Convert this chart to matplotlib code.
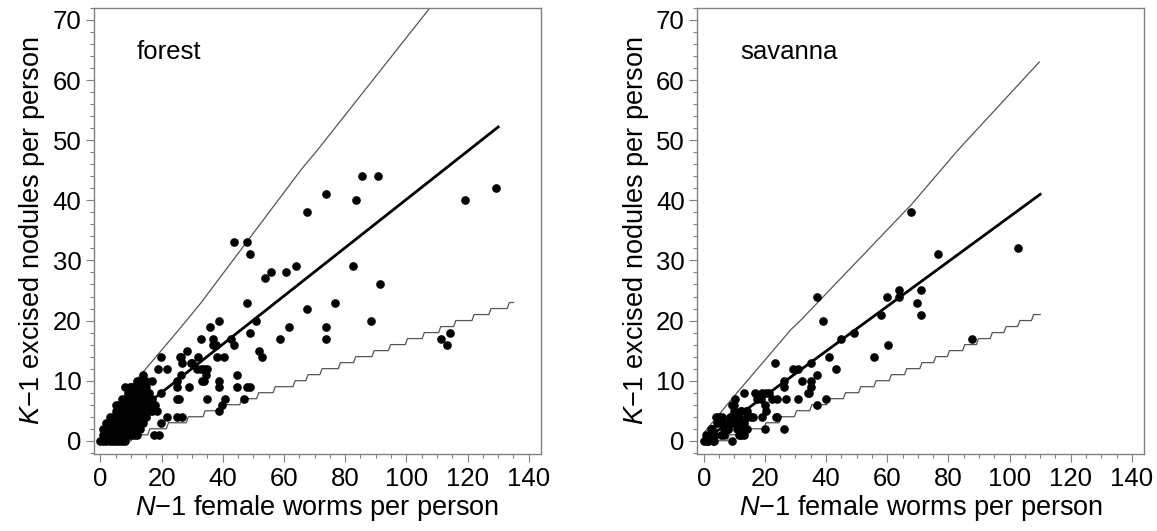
import numpy as np
import matplotlib
matplotlib.use("Agg")
import matplotlib.pyplot as plt
from matplotlib.ticker import MultipleLocator

plt.rcParams['font.family'] = ['Liberation Sans', 'DejaVu Sans']
plt.rcParams['mathtext.fontset'] = 'custom'
plt.rcParams['mathtext.rm'] = 'Liberation Sans'
plt.rcParams['mathtext.it'] = 'Liberation Sans:italic'

# ---- forest data (N-1 female worms, K-1 excised nodules) ----
forest_x = [0, 1, 2, 3, 4, 5, 6, 7, 8,
            1, 2, 3, 4, 5, 6, 7, 8, 9, 10, 11, 12,
            2, 3, 4, 5, 6, 7, 8, 9, 10, 11, 13,
            3, 4, 5, 6, 7, 8, 9, 10, 12, 14,
            4, 5, 6, 7, 8, 9, 10, 11, 12, 13, 15,
            5, 6, 7, 8, 10, 11, 12, 14, 16, 17,
            6, 7, 9, 10, 11, 12, 13, 14, 16, 18,
            7, 8, 10, 11, 12, 13, 15, 17,
            9, 11, 12, 13, 14, 15, 16,
            10, 11, 13, 14, 15, 12, 13, 14, 14,
            1, 2, 3, 5, 8,
            19.7, 18.9, 21.9, 14.8, 16.9, 9.8, 19.7, 25.1, 25.1, 29.0, 26.2, 26.2,
            28.4, 26.8, 29.5, 31.5, 32.8, 33.9, 35.0, 33.9, 38.8, 38.8, 44.8, 44.8,
            47.8, 48.9, 34.8, 40.8, 39.9, 38.8, 46.8, 24.9, 25.7, 21.9, 24.9, 26.8,
            18.6, 17.5, 19.1, 19.7, 38.2, 40.4, 34.4, 33.3, 25.9, 30.0, 32.0,
            43.7, 47.8, 48.8, 67.5, 73.7, 85.6, 90.7, 83.6, 119.3, 129.4, 63.8, 60.7,
            55.7, 53.8, 82.6, 91.5, 47.8, 67.5, 76.6, 88.5, 35.8, 38.8, 50.7, 48.8,
            61.6, 73.7, 73.7, 58.6, 32.8, 36.8, 37.8, 42.8, 43.7, 51.7, 52.8, 111.2,
            114.3, 113.4, 36.8]
forest_y = [0, 0, 0, 0, 0, 0, 0, 0, 0,
            1, 1, 1, 1, 1, 1, 1, 1, 1, 1, 1, 1,
            2, 2, 2, 2, 2, 2, 2, 2, 2, 2, 2,
            3, 3, 3, 3, 3, 3, 3, 3, 3, 3,
            4, 4, 4, 4, 4, 4, 4, 4, 4, 4, 4,
            5, 5, 5, 5, 5, 5, 5, 5, 5, 5,
            6, 6, 6, 6, 6, 6, 6, 6, 6, 6,
            7, 7, 7, 7, 7, 7, 7, 7,
            8, 8, 8, 8, 8, 8, 8,
            9, 9, 9, 9, 9, 10, 10, 10, 11,
            2, 3, 4, 6, 9,
            14, 12, 12, 10, 10, 9, 8, 10, 9, 9, 11, 14,
            15, 13, 13, 12, 12, 12, 12, 10, 10, 9, 11, 9,
            9, 9, 7, 7, 6, 5, 7, 7, 7, 4, 4, 4,
            5, 1, 1, 3, 14, 14, 11, 10, 14, 13, 14,
            33, 33, 31, 38, 41, 44, 44, 40, 40, 42, 29, 28,
            28, 27, 29, 26, 23, 22, 23, 20, 19, 20, 20, 18,
            19, 19, 17, 17, 17, 17, 16, 17, 16, 15, 14, 17,
            18, 16, 16]

forest_fit_x = [0, 130]
forest_fit_y = [0, 52.2]
forest_upper_x = [0, 5, 10.9, 25.7, 32.8, 65.6, 71.0, 110.0]
forest_upper_y = [1.0, 5.0, 9.6, 18.5, 22.9, 45.1, 48.4, 73.5]
# x at which the lower bound steps up to 1, 2, 3, ...
forest_lower_steps = [10.4, 15.8, 21.9, 28.4, 33.9, 39.3, 45.9, 51.4, 56.8, 63.3,
                      67.5, 72.1, 78.1, 83.1, 89.1, 94.5, 100.0, 105.5, 110.9,
                      115.8, 121.8, 127.3, 133.3]
forest_lower_end = 135

# ---- savanna data ----
savanna_x = [37.0, 38.9, 23.3, 41.1, 43.3, 44.9, 49.0, 55.8, 57.8, 60.0, 60.2,
             63.7, 63.7, 70.9, 69.8, 70.9, 76.6, 102.8, 67.9, 87.8,
             35.1, 29.1, 30.7, 32.1, 26.1, 26.1, 35.1, 35.1, 34.5, 34.0, 37.0, 37.0,
             40.0, 30.9, 26.9, 22.2, 23.6, 26.1, 20.0, 19.2, 20.0,
             16.6, 19.0, 21.4, 17.5, 18.6, 13.2, 10.3, 9.4, 12.1, 8.9, 14.3, 14.3,
             16.0, 13.2, 9.4, 11.3, 12.5, 13.8, 6.6, 8.0, 11.6, 9.1,
             3.9, 5.0, 5.6, 4.3, 2.3, 3.4, 0.8, 2.0, 3.5, 0.1, 1.0, 2.9, 3.4, 1.5,
             5.6, 6.6, 8.0, 8.6, 9.9, 9.9, 10.5, 12.1, 13.8, 11.4, 6.1, 6.7, 2.8,
             7.8, 11.0, 12.6, 14.2, 12.1, 13.2, 6.7, 15.4, 20.3, 23.9, 20.3, 24.0]
savanna_y = [24, 20, 13, 14, 12, 17, 18, 14, 21, 24, 16,
             25, 24, 25, 23, 21, 31, 32, 38, 17,
             13, 12, 12, 10, 10, 9, 10, 9, 8, 8, 11, 6,
             7, 7, 7, 7, 4, 2, 2, 4, 6,
             8, 8, 8, 7, 7, 8, 7, 6, 5, 4, 5, 4,
             4, 3, 3, 3, 3, 2, 2, 2, 1, 0,
             4, 4, 3, 3, 2, 1, 1, 1, 1, 0, 0, 0, 0, 0,
             1, 3, 3, 4, 6, 5, 4, 5, 5, 4, 4, 3, 2,
             2, 2, 2, 2, 1, 1, 1, 4, 8, 4, 5, 7]

savanna_fit_x = [0, 110]
savanna_fit_y = [0, 41.0]
savanna_upper_x = [0, 9.9, 28.5, 31.8, 67.9, 83.2, 109.7]
savanna_upper_y = [1.3, 7.4, 18.5, 20.1, 39.3, 48.4, 63.0]
savanna_lower_steps = [8, 14, 20, 25, 30, 35, 40.5, 46, 51, 56, 61, 66, 71, 75.5,
                       80, 85, 89.5, 94, 98.5, 103, 107.5]
savanna_lower_end = 110


def staircase(steps, x_end):
    xs, ys = [0], [0]
    for k, s in enumerate(steps):
        xs += [s - 0.35, s + 0.35]
        ys += [k, k + 1]
    xs.append(x_end)
    ys.append(len(steps))
    return xs, ys


fig = plt.figure(figsize=(11.57, 5.31), dpi=100)
ax1 = fig.add_axes([0.0812, 0.1450, 0.3864, 0.8400])
ax2 = fig.add_axes([0.6027, 0.1450, 0.3862, 0.8400])

panels = [
    (ax1, 'forest', forest_x, forest_y, forest_fit_x, forest_fit_y,
     forest_upper_x, forest_upper_y, forest_lower_steps, forest_lower_end),
    (ax2, 'savanna', savanna_x, savanna_y, savanna_fit_x, savanna_fit_y,
     savanna_upper_x, savanna_upper_y, savanna_lower_steps, savanna_lower_end),
]

for ax, name, px, py, fx, fy, ux, uy, lsteps, lend in panels:
    lx, ly = staircase(lsteps, lend)
    ax.plot(ux, uy, color='#555555', lw=0.9)
    ax.plot(lx, ly, color='#555555', lw=0.9)
    ax.plot(fx, fy, color='black', lw=2.0)
    ax.plot(px, py, 'o', color='black', ms=5.2, mec='black')

    ax.set_xlim(-2.1, 144)
    ax.set_ylim(-2.2, 72)
    ax.xaxis.set_major_locator(MultipleLocator(20))
    ax.xaxis.set_minor_locator(MultipleLocator(5))
    ax.yaxis.set_major_locator(MultipleLocator(10))
    ax.yaxis.set_minor_locator(MultipleLocator(2))
    ax.tick_params(which='major', direction='out', length=6, width=0.8,
                   color='#808080', labelsize=18.5, pad=3)
    ax.tick_params(which='minor', direction='out', length=3, width=0.8,
                   color='#808080')
    for sp in ax.spines.values():
        sp.set_color('#808080')
        sp.set_linewidth(1.0)

    ax.text(12, 63.5, name, fontsize=18.5)
    ax.set_xlabel(r'$N$' + '\u22121 female worms per person', fontsize=19.5, labelpad=2)
    ax.set_ylabel(r'$K$' + '\u22121 excised nodules per person', fontsize=19.5, labelpad=4)

fig.savefig('out.png', dpi=100)
